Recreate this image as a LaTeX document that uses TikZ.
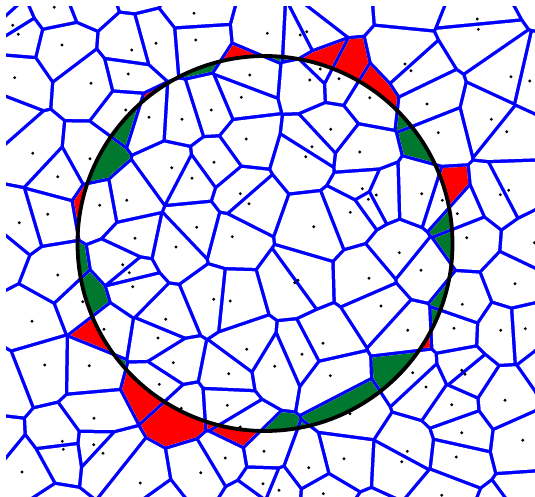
\documentclass[tikz,border=0pt]{standalone}
\definecolor{vblue}{RGB}{0,0,255}
\definecolor{vred}{RGB}{255,0,0}
\definecolor{vgreen}{RGB}{0,120,45}
\newcommand\vhw{1.75}
\newcommand\vcx{265}
\newcommand\vcy{243.5}
\newcommand\vcr{187.5}
\newcommand\insites{54.3/7.3,12.7/25.3,18.3/34.3,62/45,131.7/50,156/43.3,14.7/77.7,91/83.3,128.3/74,125.7/110,149/117.3,32.7/153.3,90/158.7,
194/13.3,195.7/40,267.3/33.3,300.3/35,306.7/31.7,249.7/75,320.3/69,309.7/80,339/78.7,241.3/97.3,211.3/110,182/119.3,330.7/129.3,246.3/139,312/146.7,305.7/156.7,214/162.3,
477.3/19,478.3/29.3,405/64,411/70.7,511/76.7,529.7/81,369.7/97.7,427/104,491.3/119.3,506.7/131.7,438.3/132.7,359.7/152,
171.7/167.7,57.7/176.7,126.7/200.3,99.7/205.3,47.7/214.3,19.3/222.7,135/238.3,176/247,122.7/264.7,129.3/272.7,57.7/275,132.7/286.7,82.7/301.7,32/321.3,165.7/319.3,104/329.3,
192/178.3,240.3/193.7,249/203.7,350.3/212.3,196.7/227.3,313.7/226.7,232.3/236.7,294.7/282.7,298/280.3,213.7/299.3,230.3/301,
362.3/188.7,368.3/199.3,376.3/195,421.7/193.7,442.3/200.3,500.3/194.7,508.7/190.3,457.3/213.7,466.7/237.7,399.3/252.7,369/278.3,421/270.3,515/283.7,381/306,462.3/304.3,407.7/330.3,454/328.3,500.7/330.3,525.3/328.7,534.5/242.7,
44.7/365,89.3/365.7,158/338,173.3/362.7,159.3/384.3,94/418.3,62.3/441.3,63.3/449.3,93.7/444.7,103/453.3,22/472,140.3/483,
246.7/349.3,323/343.3,302/354.3,274.7/366.3,228.7/373.7,330.3/375.7,227.3/405.3,181.3/408.3,240.3/427,350/413.7,264/451.3,225.3/458,308.7/467.7,344/458.7,200.7/472.7,263/483.7,279/490.3,323.3/493.7,
412.7/372.7,426/387,461.7/370.3,465/374.3,451.7/404.7,505/400.3,461.7/432.7,522.7/440.3,407.3/451.3,401.7/461.7,456.3/457,441.7/495.3}
\newcommand\outsites{-3/8,83/-4,140/-22,332/-1,412/-7,545/-18,
0/116,-4/251,-4/384,-11/445,
52/518,157.5/507,249/503,372/527,504/520,527/503,
554/366}
\edef\allsites{\insites,\outsites}
\newcommand\vorclip[4]{%
  \pgfmathsetmacro\vdx{(#3)-(#1)}%
  \pgfmathsetmacro\vdy{(#4)-(#2)}%
  \pgfmathsetmacro\vdd{100*sqrt((\vdx/100)^2+(\vdy/100)^2)}%
  \ifdim\vdd pt>0.05pt
    \pgfmathsetmacro\vux{\vdx/\vdd}%
    \pgfmathsetmacro\vuy{\vdy/\vdd}%
    \pgfmathsetmacro\vmx{((#1)+(#3))/2-\vhw*\vux}%
    \pgfmathsetmacro\vmy{((#2)+(#4))/2-\vhw*\vuy}%
    \clip ({\vmx-2000*\vuy},{\vmy+2000*\vux}) -- ({\vmx+2000*\vuy},{\vmy-2000*\vux}) -- ({\vmx-2000*\vux},{\vmy-2000*\vuy}) -- cycle;
  \fi}
\newcommand\vornear[4]{%
  \dimen0=#3pt \advance\dimen0 by -#1pt
  \dimen2=#4pt \advance\dimen2 by -#2pt
  \ifdim\dimen0<160pt \ifdim\dimen0>-160pt \ifdim\dimen2<160pt \ifdim\dimen2>-160pt
    \vorclip{#1}{#2}{#3}{#4}%
  \fi\fi\fi\fi}
\begin{document}
\begin{tikzpicture}[x=1pt,y=-1pt]
\useasboundingbox (0,0) rectangle (535,497);
\fill[white] (0,0) rectangle (535,497);
\begin{scope}
\clip (6,6) rectangle (535,497);
\fill[vblue] (6,6) rectangle (535,497);
\foreach \xi/\yi in \allsites {
  \begin{scope}
    \foreach \xj/\yj in \allsites {\vornear{\xi}{\yi}{\xj}{\yj}}
    \fill[white] (0,0) rectangle (540,500);
    \pgfmathsetmacro\vrr{100*sqrt(((\xi-\vcx)/100)^2+((\yi-\vcy)/100)^2)}
    \ifdim\vrr pt<\vcr pt
      \fill[vred,even odd rule] (0,0) rectangle (540,500) (\vcx,\vcy) circle (\vcr);
    \else
      \fill[vgreen] (\vcx,\vcy) circle (\vcr);
    \fi
  \end{scope}
}
\end{scope}
\node[circle,draw=black,line width=3.8pt,minimum size=375pt,inner sep=0pt] (ring) at (\vcx,\vcy) {};
\foreach \xi/\yi in \insites {\fill[black] (\xi,\yi) circle (1.6);}
\end{tikzpicture}
\end{document}
